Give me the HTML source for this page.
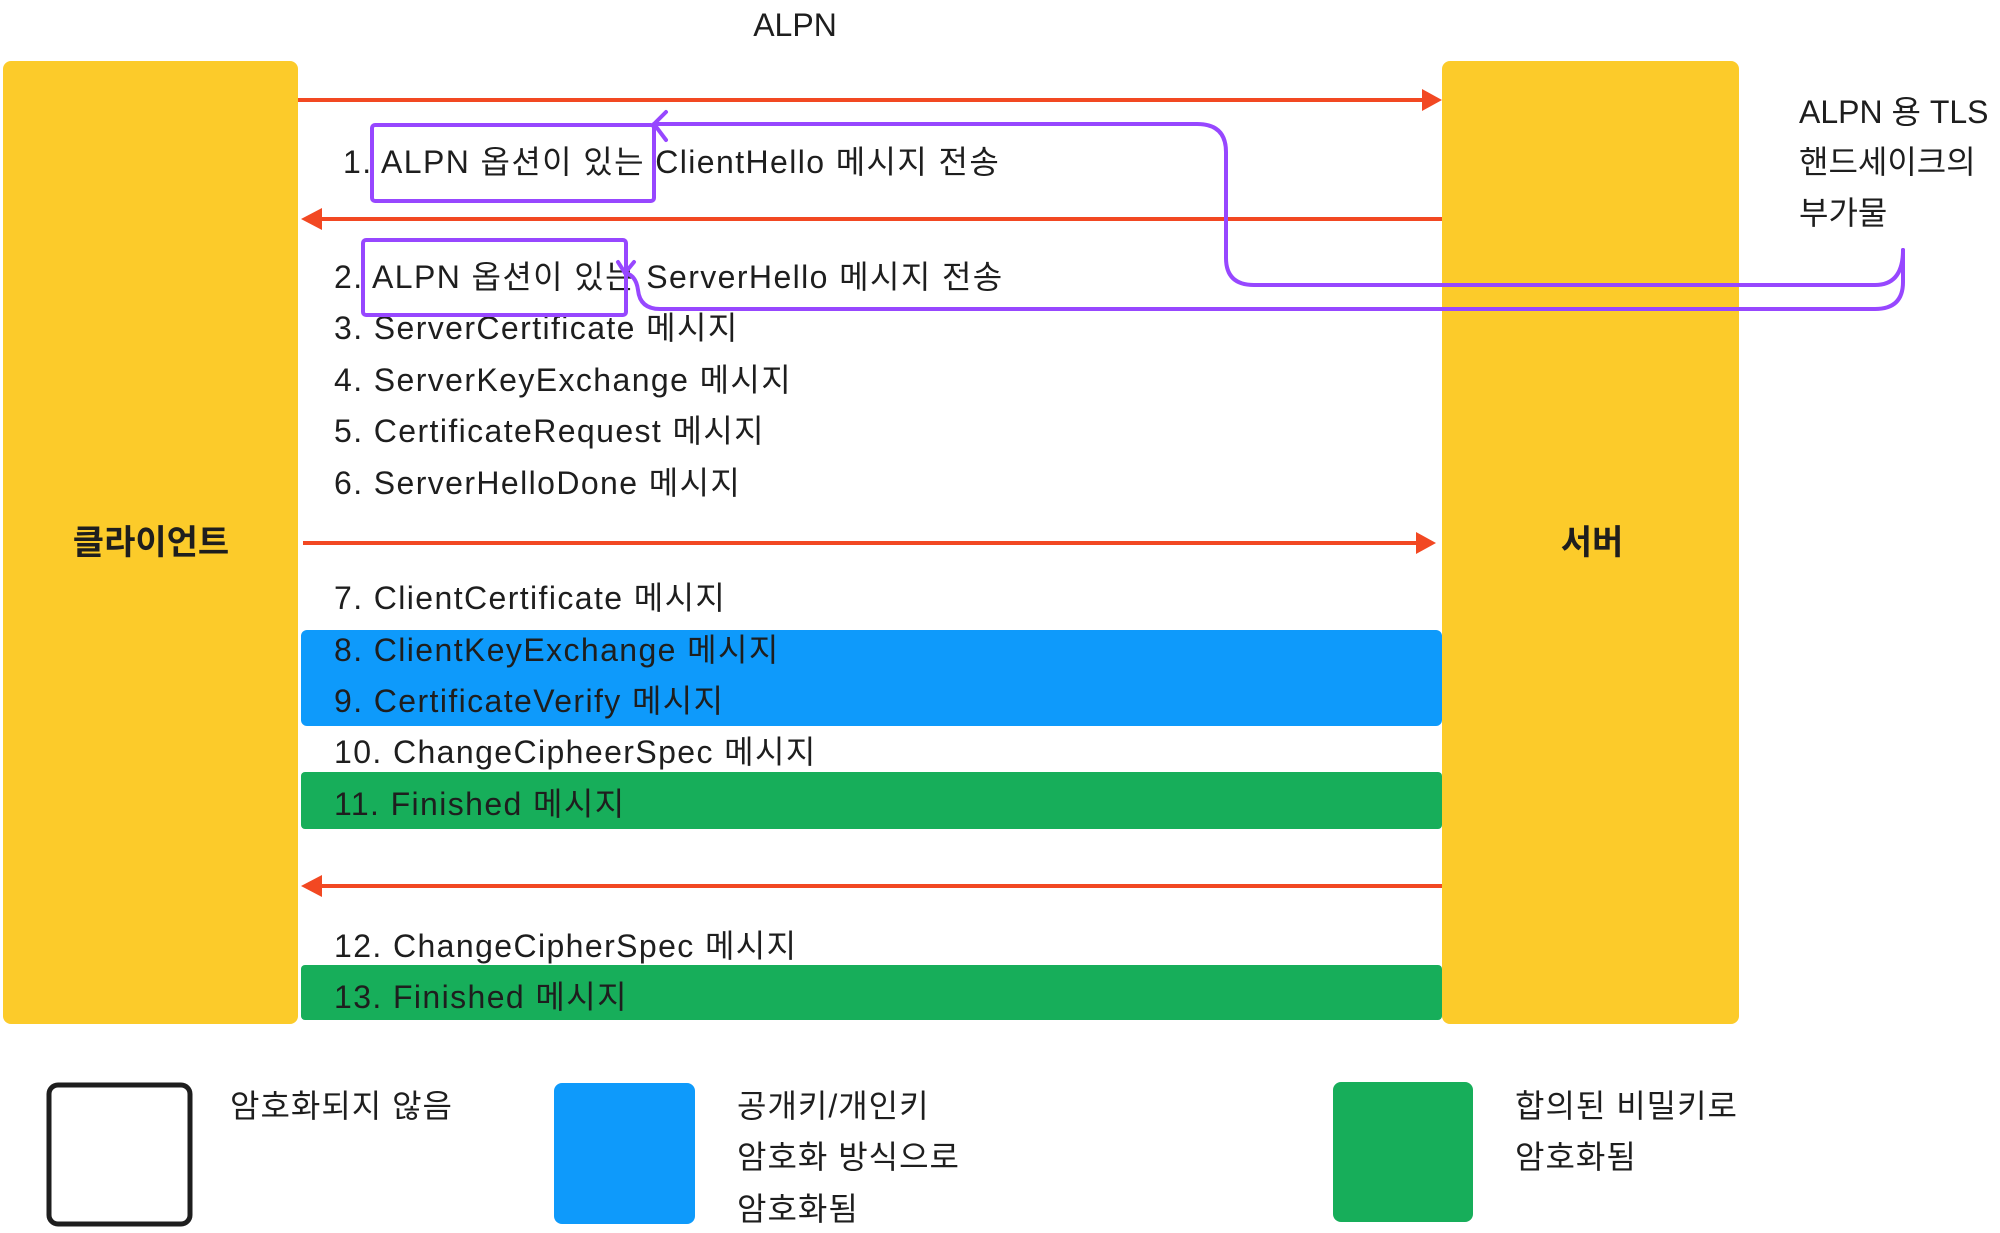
<!DOCTYPE html>
<html><head><meta charset="utf-8"><style>
html,body{margin:0;padding:0;background:#fff;}
svg{display:block;}
text{font-family:"Liberation Sans","Noto Sans CJK KR",sans-serif;fill:#1e1e1e;}
</style></head><body>
<svg width="2000" height="1233" viewBox="0 0 2000 1233" xmlns="http://www.w3.org/2000/svg">
<text x="795" y="36" font-size="32" text-anchor="middle">ALPN</text>
<rect x="3" y="61" width="295" height="963" rx="8" fill="#FCCB2A"/>
<rect x="1442" y="61" width="297" height="963" rx="8" fill="#FCCB2A"/>
<text x="151" y="554" font-size="34" font-weight="bold" text-anchor="middle">클라이언트</text>
<text x="1592" y="554" font-size="34" font-weight="bold" text-anchor="middle">서버</text>
<rect x="301" y="630" width="1141" height="96" rx="6" fill="#0E9AFB"/>
<rect x="301" y="772" width="1141" height="57" rx="4" fill="#17AE5A"/>
<rect x="301" y="965" width="1141" height="55" rx="4" fill="#17AE5A"/>
<g stroke="#F24822" stroke-width="4" fill="none">
<line x1="298" y1="100" x2="1426" y2="100"/><path d="M1422,89 L1442,100 L1422,111 Z" fill="#F24822" stroke="none"/>
<line x1="1442" y1="219" x2="318" y2="219"/><path d="M322,208 L301,219 L322,230 Z" fill="#F24822" stroke="none"/>
<line x1="303" y1="543" x2="1420" y2="543"/><path d="M1416,532 L1436,543 L1416,554 Z" fill="#F24822" stroke="none"/>
<line x1="1442" y1="886" x2="318" y2="886"/><path d="M322,875 L301,886 L322,897 Z" fill="#F24822" stroke="none"/>
</g>
<g font-size="32" letter-spacing="1.4">
<text x="343" y="173">1. ALPN 옵션이 있는 ClientHello 메시지 전송</text>
<text x="334" y="288">2. ALPN 옵션이 있는 ServerHello 메시지 전송</text>
<text x="334" y="339">3. ServerCertificate 메시지</text>
<text x="334" y="391">4. ServerKeyExchange 메시지</text>
<text x="334" y="442">5. CertificateRequest 메시지</text>
<text x="334" y="494">6. ServerHelloDone 메시지</text>
<text x="334" y="609">7. ClientCertificate 메시지</text>
<text x="334" y="661">8. ClientKeyExchange 메시지</text>
<text x="334" y="712">9. CertificateVerify 메시지</text>
<text x="334" y="763">10. ChangeCipheerSpec 메시지</text>
<text x="334" y="815">11. Finished 메시지</text>
<text x="334" y="957">12. ChangeCipherSpec 메시지</text>
<text x="334" y="1008">13. Finished 메시지</text>
</g>
<g font-size="32">
<text x="1799" y="123">ALPN 용 TLS</text>
<text x="1799" y="173">핸드세이크의</text>
<text x="1799" y="224">부가물</text>
</g>
<g stroke="#9747FF" stroke-width="4" fill="none" stroke-linecap="round" stroke-linejoin="round">
<rect x="372" y="125" width="282" height="76" rx="3"/>
<rect x="363" y="240" width="263" height="75" rx="3"/>
<path d="M654,124 L1197,124 Q1226,124 1226,152 L1226,258 Q1226,285 1254,285 L1875,285 Q1903,285 1903,250"/>
<path d="M1903,250 L1903,282 Q1903,309 1875,309 L660,309 Q640,309 638,290 Q636,275 625,273"/>
<path d="M666,112 L654,124 L666,140"/>
<path d="M618,262 L625,273 L634,262"/>
</g>
<rect x="49" y="1085" width="141" height="139" rx="9" fill="none" stroke="#1e1e1e" stroke-width="5"/>
<rect x="554" y="1083" width="141" height="141" rx="8" fill="#0E9AFB"/>
<rect x="1333" y="1082" width="140" height="140" rx="8" fill="#17AE5A"/>
<g font-size="32" letter-spacing="1">
<text x="230" y="1117">암호화되지 않음</text>
<text x="737" y="1117">공개키/개인키</text>
<text x="737" y="1168">암호화 방식으로</text>
<text x="737" y="1220">암호화됨</text>
<text x="1515" y="1117">합의된 비밀키로</text>
<text x="1515" y="1168">암호화됨</text>
</g>
</svg>
</body></html>
